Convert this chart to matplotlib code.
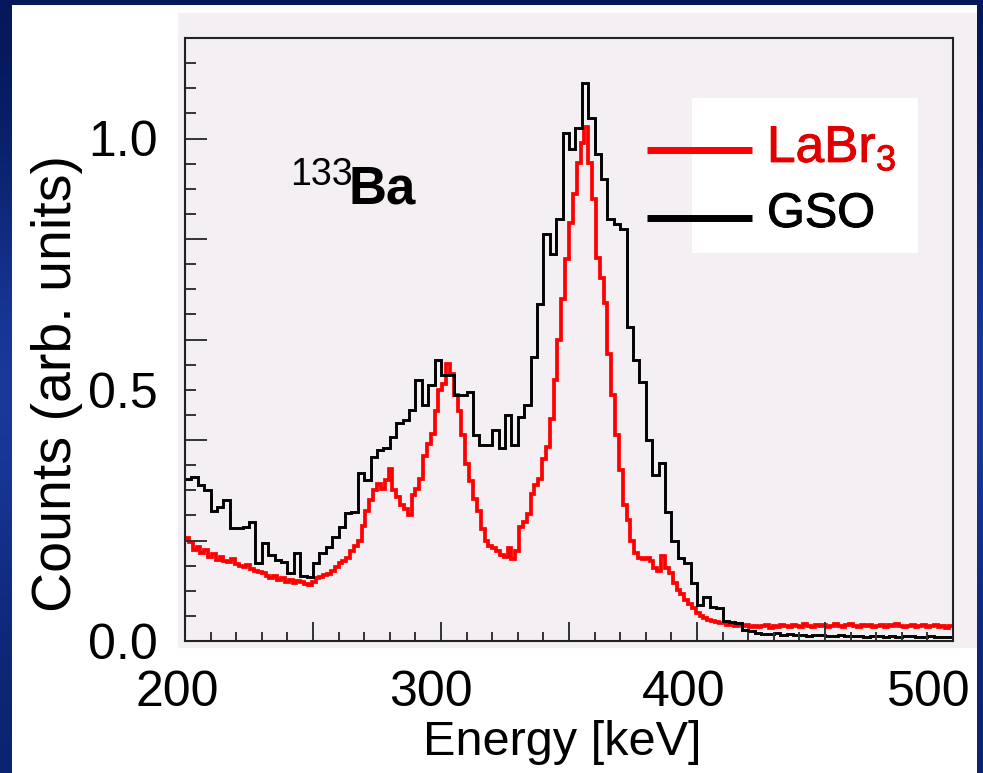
import numpy as np
import matplotlib
matplotlib.use('Agg')
from matplotlib import pyplot as plt
from matplotlib.patches import Rectangle
from matplotlib.lines import Line2D
from matplotlib.transforms import offset_copy
from matplotlib.colors import LinearSegmentedColormap
import matplotlib.patheffects as pe

plt.rcParams['font.family'] = ['Liberation Sans', 'DejaVu Sans']
plt.rcParams['mathtext.fontset'] = 'custom'
plt.rcParams['mathtext.rm'] = 'Liberation Sans'
plt.rcParams['mathtext.bf'] = 'Liberation Sans:bold'

# binning of the two spectra (keV)
e_start = 200.0
labr_width = 1.5
gso_width = 2.5

# LaBr3 spectrum, 1.5 keV bins from 200 keV
labr3 = [
    0.205, 0.198, 0.182, 0.188, 0.176, 0.181, 0.168, 0.173, 0.162, 0.168,
    0.160, 0.157, 0.163, 0.154, 0.150, 0.147, 0.152, 0.144, 0.140, 0.137,
    0.135, 0.130, 0.125, 0.129, 0.122, 0.126, 0.118, 0.121, 0.115, 0.119,
    0.117, 0.114, 0.111, 0.118, 0.125, 0.128, 0.131, 0.134, 0.140, 0.148,
    0.155, 0.160, 0.166, 0.180, 0.190, 0.200, 0.228, 0.258, 0.280, 0.300,
    0.312, 0.302, 0.320, 0.342, 0.300, 0.287, 0.270, 0.262, 0.250, 0.290,
    0.302, 0.322, 0.368, 0.392, 0.412, 0.458, 0.500, 0.512, 0.552, 0.532,
    0.490, 0.458, 0.410, 0.352, 0.318, 0.282, 0.258, 0.222, 0.200, 0.190,
    0.186, 0.180, 0.172, 0.167, 0.186, 0.164, 0.180, 0.226, 0.236, 0.252,
    0.292, 0.310, 0.322, 0.362, 0.386, 0.442, 0.520, 0.600, 0.680, 0.760,
    0.832, 0.890, 0.952, 0.992, 1.022, 0.952, 0.880, 0.762, 0.722, 0.672,
    0.572, 0.490, 0.410, 0.340, 0.270, 0.240, 0.200, 0.176, 0.166, 0.163,
    0.166, 0.160, 0.146, 0.140, 0.170, 0.146, 0.136, 0.116, 0.101, 0.094,
    0.081, 0.074, 0.066, 0.056, 0.050, 0.046, 0.042, 0.040, 0.038, 0.036,
    0.035, 0.032, 0.034, 0.030, 0.031, 0.029, 0.031, 0.028, 0.030, 0.027,
    0.029, 0.031, 0.026, 0.030, 0.028, 0.032, 0.029, 0.027, 0.031, 0.030,
    0.028, 0.033, 0.030, 0.027, 0.031, 0.029, 0.032, 0.028, 0.030, 0.033,
    0.029, 0.027, 0.031, 0.034, 0.030, 0.028, 0.032, 0.029, 0.031, 0.027,
    0.030, 0.032, 0.028, 0.031, 0.029, 0.033, 0.030, 0.027, 0.029, 0.031,
    0.028, 0.030, 0.032, 0.027, 0.029, 0.031, 0.028, 0.030, 0.026, 0.029,
]

# GSO spectrum, 2.5 keV bins from 200 keV
gso = [
    0.322, 0.326, 0.310, 0.300, 0.258, 0.267, 0.280, 0.224, 0.224, 0.226,
    0.237, 0.155, 0.195, 0.171, 0.161, 0.158, 0.135, 0.175, 0.130, 0.127,
    0.155, 0.175, 0.187, 0.207, 0.227, 0.254, 0.256, 0.335, 0.320, 0.366,
    0.380, 0.385, 0.405, 0.433, 0.440, 0.460, 0.520, 0.470, 0.510, 0.560,
    0.530, 0.530, 0.490, 0.490, 0.495, 0.410, 0.390, 0.390, 0.420, 0.385,
    0.450, 0.390, 0.445, 0.470, 0.565, 0.670, 0.810, 0.770, 0.840, 1.010,
    0.980, 1.020, 1.110, 1.040, 0.970, 0.920, 0.840, 0.830, 0.820, 0.625,
    0.560, 0.515, 0.400, 0.330, 0.354, 0.256, 0.200, 0.165, 0.155, 0.115,
    0.072, 0.088, 0.068, 0.066, 0.040, 0.038, 0.035, 0.022, 0.020, 0.016,
    0.014, 0.013, 0.015, 0.012, 0.013, 0.011, 0.012, 0.010, 0.011, 0.012,
    0.010, 0.009, 0.011, 0.010, 0.009, 0.010, 0.008, 0.009, 0.010, 0.008,
    0.009, 0.008, 0.010, 0.009, 0.008, 0.007, 0.009, 0.008, 0.007, 0.008,
]

x_labels = ['200', '300', '400', '500']
x_label_pos = [200, 300, 400, 500]
x_label_shift = [-8, -10, -13, -24]   # px, as in the slide
y_labels = ['0.0', '0.5', '1.0']
y_label_pos = [0.0, 0.5, 1.0]

W, H = 983, 773
fig = plt.figure(figsize=(W / 100, H / 100), dpi=100)

# slide background
bg = fig.add_axes([0, 0, 1, 1])
bg.set_axis_off()
grad = np.array([[0.0], [0.5], [1.0], [0.6], [0.3]])
cmap = LinearSegmentedColormap.from_list('slide', ['#05185a', '#1c3ea6'])
bg.imshow(grad, cmap=cmap, aspect='auto', extent=[0, 1, 0, 1], interpolation='bicubic')
bg.set_xlim(0, 1)
bg.set_ylim(0, 1)
bg.add_patch(Rectangle((12 / W, 0), 965 / W, 768 / H, color='white', lw=0))
bg.add_patch(Rectangle((178 / W, 1 - 648 / H), 799 / W, 635 / H, color='#f3eff2', lw=0))

ax = fig.add_axes([185 / W, 1 - 641 / H, 768 / W, 603 / H])
ax.set_facecolor('#f3eff2')

edges_labr = e_start + labr_width * np.arange(len(labr3) + 1)
edges_gso = e_start + gso_width * np.arange(len(gso) + 1)
ax.stairs(labr3, edges_labr, color='#ff0000', lw=2.7, baseline=None)
ax.stairs(gso, edges_gso, color='black', lw=2.1, baseline=None)

ax.set_xlim(200, 500)
ax.set_ylim(0, 1.2)
ax.set_xticks(np.arange(200, 501, 50))
ax.set_xticks(np.arange(200, 501, 10), minor=True)
ax.set_yticks(np.arange(0, 1.21, 0.2))
ax.set_yticks(np.arange(0, 1.21, 0.05), minor=True)
ax.tick_params(which='both', direction='in', labelleft=False, labelbottom=False,
               color='#333333', width=1.4, top=False, right=False)
ax.tick_params(axis='y', which='major', length=16)
ax.tick_params(axis='y', which='minor', length=8)
ax.tick_params(axis='x', which='major', length=14)
ax.tick_params(axis='x', which='minor', length=6.5)
for s in ax.spines.values():
    s.set_color('#222222')
    s.set_linewidth(1.5)

fs = 36
for lab, v, dx in zip(x_labels, x_label_pos, x_label_shift):
    tr = offset_copy(ax.get_xaxis_transform(), fig=fig, x=dx, y=-65, units='dots')
    ax.text(v, 0, lab, transform=tr, ha='center', va='baseline', fontsize=fs)
for lab, v in zip(y_labels, y_label_pos):
    tr = offset_copy(ax.get_yaxis_transform(), fig=fig, x=-27, y=-18, units='dots')
    ax.text(0, v, lab, transform=tr, ha='right', va='baseline', fontsize=fs)

fig.text(562 / W, 1 - 755 / H, 'Energy [keV]', ha='center', va='baseline', fontsize=35)
fig.text(57 / W, 1 - 384 / H, 'Counts (arb. units)', ha='center', va='center',
         rotation=90, fontsize=40)

# isotope label
fig.text(290 / W, 1 - 185 / H, '133', ha='left', va='baseline', fontsize=27)
fig.text(349 / W, 1 - 203 / H, 'Ba', ha='left', va='baseline', fontsize=38,
         fontweight='bold')

# legend
fig.add_artist(Rectangle((692 / W, 1 - 253 / H), 226 / W, 155 / H,
                         transform=fig.transFigure, color='white', lw=0, zorder=5))
fig.add_artist(Line2D([647 / W, 752 / W], [1 - 150 / H] * 2, transform=fig.transFigure,
                      color='#ff0000', lw=5, solid_capstyle='butt', zorder=6))
fig.add_artist(Line2D([647 / W, 752 / W], [1 - 218 / H] * 2, transform=fig.transFigure,
                      color='black', lw=5, solid_capstyle='butt', zorder=6))
fig.text(767 / W, 1 - 162 / H, 'LaBr$_3$', ha='left', va='baseline', fontsize=37,
         color='#e00000', zorder=7,
         path_effects=[pe.withStroke(linewidth=0.7, foreground='#e00000')])
fig.text(767 / W, 1 - 227 / H, 'GSO', ha='left', va='baseline', fontsize=35,
         color='black', zorder=7,
         path_effects=[pe.withStroke(linewidth=0.7, foreground='black')])

fig.savefig('out.png', dpi=100)
